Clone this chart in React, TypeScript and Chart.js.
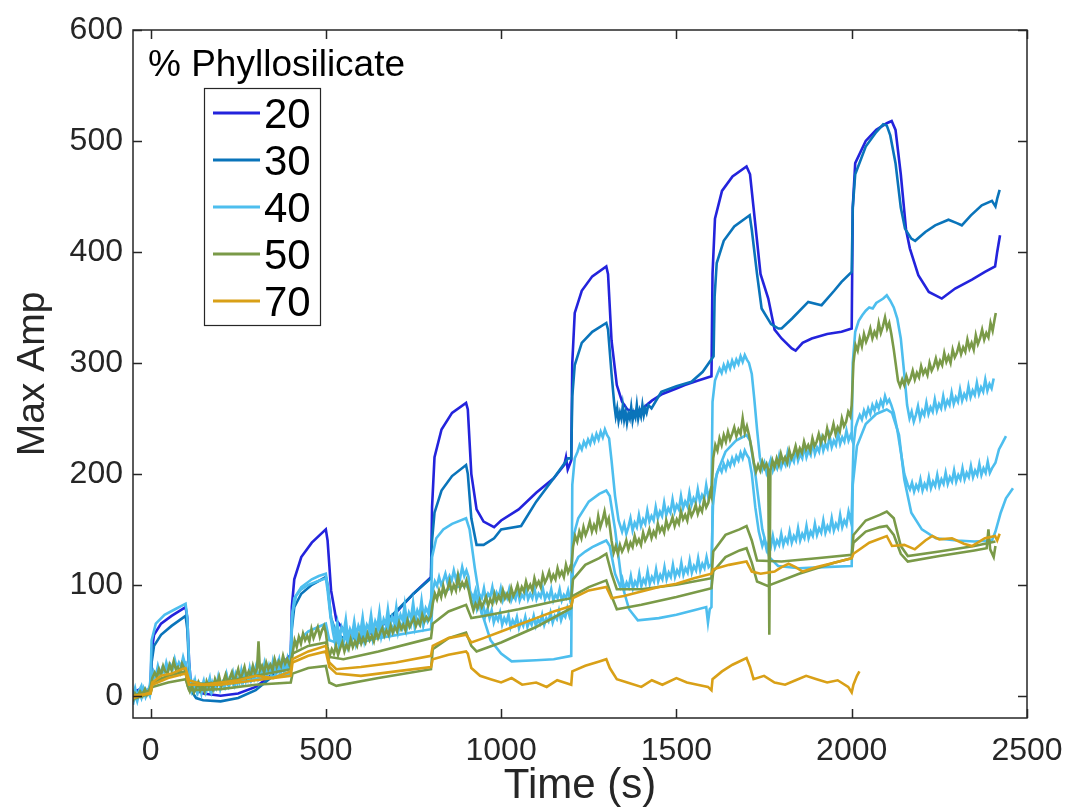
import React, { useEffect, useRef } from 'react';
import { Chart, registerables } from 'chart.js';
Chart.register(...registerables);

type P = [number, number];

const xTicks = [0, 500, 1000, 1500, 2000, 2500];
const yTicks = [0, 100, 200, 300, 400, 500, 600];
const xTitle = 'Time (s)';
const yTitle = 'Max Amp';
const legendTitle = '% Phyllosilicate';
const legendLabels = ['20', '30', '40', '50', '70'];

const C20 = '#2323DC';
const C30 = '#0A74BA';
const C40 = '#4DBEEE';
const C50 = '#7A9A48';
const C70 = '#D9A017';

const line20: P[] = [[-50,3],[-30,6],[-10,4],[0,8],[3,40],[10,55],[30,65],[60,72],[100,80],[105,70],[110,30],[115,12],[130,5],[150,2],[200,0],[250,2],[300,8],[350,20],[400,37],[403,80],[410,105],[430,125],[460,138],[500,150],[505,140],[515,95],[530,68],[550,60],[580,55],[600,52],[650,60],[700,75],[750,92],[800,107],[803,170],[810,215],[830,240],[860,255],[900,264],[905,258],[915,200],[930,168],[950,157],[980,152],[1000,158],[1050,168],[1100,183],[1150,196],[1180,208],[1185,215],[1190,204],[1200,212],[1203,300],[1210,345],[1230,365],[1260,378],[1300,387],[1305,380],[1315,320],[1330,280],[1345,265],[1360,258],[1381,256],[1400,258],[1430,266],[1460,272],[1500,277],[1524,280],[1560,284],[1600,288],[1603,380],[1610,430],[1630,455],[1660,468],[1700,477],[1710,470],[1720,440],[1740,380],[1762,358],[1780,330],[1800,322],[1829,313],[1840,311],[1860,318],[1886,322],[1930,326],[1971,328],[2000,331],[2003,440],[2010,480],[2040,500],[2070,510],[2100,516],[2114,518],[2125,510],[2140,470],[2155,420],[2166,403],[2190,379],[2220,364],[2257,358],[2295,367],[2343,375],[2380,382],[2409,387],[2415,400],[2423,415]];

const line30: P[] = [[-50,2],[-30,5],[-10,3],[0,6],[3,30],[10,45],[30,55],[60,63],[100,72],[105,60],[110,25],[115,5],[130,-2],[150,-4],[200,-5],[250,-2],[300,5],[350,18],[400,33],[403,60],[410,80],[430,92],[460,100],[500,107],[505,100],[515,70],[530,56],[550,52],[580,52],[600,53],[650,61],[700,76],[750,92],[800,106],[803,140],[810,165],[830,185],[860,198],[900,208],[905,200],[915,160],[930,136],[950,136],[980,142],[1000,150],[1057,153],[1100,175],[1150,196],[1191,214],[1200,214],[1203,270],[1210,298],[1230,318],[1260,328],[1300,336],[1305,330],[1315,290],[1323,262],[1327,252],[1331,259],[1335,248],[1339,255],[1343,250],[1347,261],[1351,249],[1355,256],[1359,246],[1363,254],[1367,250],[1371,260],[1375,248],[1379,255],[1383,251],[1387,262],[1391,250],[1395,257],[1399,252],[1403,262],[1407,253],[1411,259],[1415,255],[1420,262],[1429,259],[1457,274],[1500,279],[1543,283],[1575,292],[1606,306],[1609,360],[1615,390],[1635,410],[1665,423],[1709,433],[1715,420],[1730,380],[1743,349],[1770,335],[1791,331],[1800,331],[1830,340],[1876,355],[1914,352],[1950,365],[1971,373],[2000,382],[2003,440],[2010,470],[2040,495],[2070,508],[2090,515],[2100,514],[2110,505],[2125,480],[2140,440],[2152,421],[2170,412],[2181,410],[2210,418],[2238,424],[2276,429],[2300,426],[2314,424],[2340,433],[2371,442],[2400,446],[2410,441],[2415,448],[2422,456]];

const lb1: P[] = [[-50,0],[-44,7],[-38,-2],[-32,5],[-26,9],[-20,1],[-14,6],[-8,3],[-2,10],[0,15],[3,50],[15,65],[40,73],[70,78],[100,83],[105,70],[110,30],[115,12],[121,6],[127,14],[133,4],[139,10],[145,2],[151,12],[157,5],[163,9],[169,16],[175,4],[181,11],[187,7],[193,17],[199,6],[205,12],[211,8],[217,19],[223,9],[229,14],[235,21],[241,10],[247,16],[253,12],[259,23],[265,13],[271,18],[277,14],[283,25],[289,15],[295,20],[301,27],[307,16],[313,22],[319,18],[325,29],[331,19],[337,24],[343,20],[349,31],[355,21],[361,26],[367,33],[373,22],[379,28],[385,24],[391,34],[397,27],[400,30],[403,70],[410,88],[430,98],[460,105],[480,108],[500,110],[505,100],[515,70],[527,56],[533,66],[539,51],[545,62],[551,57],[557,69],[563,52],[569,60],[575,55],[581,67],[587,54],[593,63],[599,58],[605,71],[611,56],[617,64],[623,60],[629,73],[635,58],[641,67],[647,62],[653,76],[659,60],[665,69],[671,64],[677,78],[683,63],[689,71],[695,66],[701,80],[707,65],[713,73],[719,68],[725,82],[731,67],[737,75],[743,70],[749,84],[755,69],[761,77],[767,72],[773,86],[779,71],[785,79],[791,75],[797,83],[800,78],[803,125],[815,142],[835,150],[860,155],[900,160],[910,150],[925,115],[945,75],[970,50],[1000,38],[1030,31],[1100,32],[1150,33],[1200,36],[1203,190],[1210,214],[1218,220],[1224,226],[1230,222],[1236,229],[1242,225],[1248,231],[1254,227],[1260,234],[1266,229],[1272,236],[1278,231],[1284,238],[1290,233],[1296,240],[1302,235],[1308,232],[1315,212],[1325,180],[1335,158],[1345,148],[1351,155],[1357,146],[1363,152],[1369,160],[1375,149],[1381,156],[1387,152],[1393,163],[1399,153],[1405,159],[1411,155],[1417,167],[1423,157],[1429,162],[1435,158],[1441,170],[1447,160],[1453,166],[1459,162],[1465,174],[1471,163],[1477,169],[1483,165],[1489,177],[1495,166],[1501,172],[1507,168],[1513,180],[1519,169],[1525,175],[1531,171],[1537,183],[1543,172],[1549,178],[1555,174],[1561,186],[1567,175],[1573,181],[1579,177],[1585,190],[1591,179],[1597,185],[1600,183],[1603,265],[1610,284],[1617,290],[1623,295],[1629,291],[1635,298],[1641,293],[1647,300],[1653,295],[1659,302],[1665,297],[1671,303],[1677,299],[1683,306],[1689,301],[1695,307],[1701,303],[1707,300],[1715,290],[1722,268],[1730,240],[1738,215],[1745,204],[1751,210],[1757,201],[1763,207],[1769,213],[1775,203],[1781,209],[1787,205],[1793,216],[1799,206],[1805,212],[1811,208],[1817,219],[1823,209],[1829,215],[1835,211],[1841,222],[1847,212],[1853,218],[1859,214],[1865,225],[1871,215],[1877,221],[1883,217],[1889,228],[1895,218],[1901,224],[1907,220],[1913,231],[1919,221],[1925,227],[1931,223],[1937,234],[1943,224],[1949,230],[1955,226],[1961,237],[1967,227],[1973,233],[1979,229],[1985,239],[1991,230],[1997,235],[2000,232],[2003,300],[2010,328],[2020,338],[2030,343],[2040,347],[2050,350],[2060,349],[2070,354],[2080,356],[2090,358],[2100,361],[2110,356],[2120,350],[2130,340],[2140,322],[2150,290],[2158,262],[2165,250],[2171,256],[2177,247],[2183,253],[2189,261],[2195,250],[2201,257],[2207,253],[2213,264],[2219,254],[2225,260],[2231,256],[2237,267],[2243,257],[2249,263],[2255,259],[2261,270],[2267,260],[2273,266],[2279,262],[2285,273],[2291,263],[2297,269],[2303,265],[2309,276],[2315,266],[2321,272],[2327,268],[2333,279],[2339,269],[2345,275],[2351,271],[2357,282],[2363,272],[2369,278],[2375,274],[2381,285],[2387,275],[2393,281],[2399,277],[2405,286]];

const lb2: P[] = [[-50,-8],[-44,1],[-38,-5],[-32,3],[-26,-2],[-20,6],[-14,-1],[-8,4],[-2,0],[3,12],[9,22],[15,18],[21,27],[27,20],[33,25],[39,21],[45,30],[51,23],[57,28],[63,24],[69,33],[75,25],[81,30],[87,26],[93,35],[99,28],[104,22],[110,10],[116,4],[122,12],[128,6],[134,2],[140,9],[146,5],[152,13],[158,3],[164,8],[170,4],[176,12],[182,6],[188,10],[194,15],[200,7],[206,12],[212,8],[218,17],[224,9],[230,14],[236,10],[242,19],[248,11],[254,16],[260,12],[266,21],[272,13],[278,18],[284,14],[290,23],[296,15],[302,20],[308,16],[314,25],[320,17],[326,22],[332,18],[338,27],[344,19],[350,24],[356,20],[362,29],[368,21],[374,26],[380,22],[386,30],[392,24],[398,27],[405,75],[415,90],[430,96],[450,100],[475,103],[500,106],[505,95],[513,72],[520,58],[526,48],[532,56],[538,44],[544,52],[550,47],[556,59],[562,45],[568,53],[574,49],[580,61],[586,47],[592,55],[598,51],[604,63],[610,49],[616,57],[622,53],[628,65],[634,51],[640,59],[646,55],[652,67],[658,53],[664,61],[670,57],[676,69],[682,55],[688,63],[694,59],[700,71],[706,57],[712,65],[718,61],[724,73],[730,59],[736,67],[742,63],[748,75],[754,61],[760,69],[766,65],[772,77],[778,63],[784,71],[790,67],[796,74],[800,70],[805,95],[811,103],[817,99],[823,107],[829,100],[835,104],[841,110],[847,102],[853,108],[859,104],[865,113],[871,105],[877,110],[883,106],[889,116],[895,108],[901,113],[907,107],[913,90],[919,82],[925,88],[931,78],[937,84],[943,76],[949,82],[955,72],[961,78],[967,70],[973,77],[979,66],[985,72],[991,68],[997,75],[1003,64],[1009,70],[1015,66],[1021,73],[1027,62],[1033,68],[1039,64],[1045,71],[1051,61],[1057,67],[1063,63],[1069,71],[1075,62],[1081,68],[1087,64],[1093,72],[1099,63],[1105,69],[1111,65],[1117,73],[1123,64],[1129,70],[1135,67],[1141,75],[1147,66],[1153,72],[1159,69],[1165,77],[1171,68],[1177,74],[1183,71],[1189,79],[1195,72],[1200,78],[1205,115],[1220,125],[1240,130],[1260,134],[1280,137],[1300,140],[1310,135],[1325,110],[1340,98],[1346,105],[1352,96],[1358,102],[1364,98],[1370,108],[1376,97],[1382,103],[1388,99],[1394,110],[1400,99],[1406,105],[1412,101],[1418,112],[1424,101],[1430,107],[1436,103],[1442,114],[1448,103],[1454,109],[1460,105],[1466,116],[1472,105],[1478,111],[1484,107],[1490,118],[1496,107],[1502,113],[1508,109],[1514,120],[1520,109],[1526,115],[1532,111],[1538,122],[1544,111],[1550,117],[1556,113],[1562,124],[1568,113],[1574,119],[1580,115],[1586,125],[1592,116],[1600,119],[1605,180],[1611,195],[1617,201],[1623,206],[1629,202],[1635,209],[1641,204],[1647,211],[1653,207],[1659,214],[1665,209],[1671,216],[1677,212],[1683,219],[1689,214],[1695,221],[1701,217],[1707,214],[1715,200],[1725,170],[1735,148],[1745,135],[1751,141],[1757,132],[1763,138],[1769,134],[1775,144],[1781,134],[1787,140],[1793,136],[1799,146],[1805,136],[1811,142],[1817,138],[1823,148],[1829,138],[1835,144],[1841,140],[1847,151],[1853,140],[1859,146],[1865,142],[1871,153],[1877,142],[1883,148],[1889,144],[1895,155],[1901,145],[1907,151],[1913,147],[1919,158],[1925,147],[1931,153],[1937,149],[1943,160],[1949,149],[1955,155],[1961,151],[1967,163],[1973,152],[1979,158],[1985,154],[1991,166],[1997,158],[2000,165],[2005,225],[2011,242],[2017,248],[2023,253],[2029,249],[2035,257],[2041,252],[2047,259],[2053,254],[2059,262],[2065,257],[2071,264],[2077,259],[2083,266],[2089,261],[2095,270],[2101,264],[2107,267],[2113,262],[2120,255],[2130,240],[2140,220],[2150,200],[2160,190],[2166,186],[2172,192],[2178,184],[2184,190],[2190,186],[2196,195],[2202,185],[2208,191],[2214,187],[2220,197],[2226,187],[2232,193],[2238,189],[2244,199],[2250,189],[2256,195],[2262,191],[2268,201],[2274,191],[2280,197],[2286,193],[2292,203],[2298,193],[2304,199],[2310,195],[2316,205],[2322,195],[2328,201],[2334,197],[2340,207],[2346,197],[2352,203],[2358,199],[2364,209],[2370,199],[2376,205],[2382,201],[2388,211],[2394,201],[2400,205],[2410,210],[2420,222],[2430,228],[2440,234]];

const lb3: P[] = [[-50,2],[0,4],[5,15],[50,25],[100,30],[110,12],[200,10],[300,15],[400,20],[405,45],[450,58],[500,65],[510,50],[560,45],[650,52],[800,60],[805,88],[850,96],[900,100],[915,92],[921,88],[927,95],[933,86],[939,91],[945,88],[951,97],[957,86],[963,92],[969,89],[975,98],[981,87],[987,93],[993,89],[999,97],[1005,86],[1011,92],[1017,88],[1023,96],[1029,86],[1035,91],[1041,87],[1047,96],[1053,86],[1059,91],[1065,88],[1071,97],[1077,87],[1083,92],[1089,88],[1095,97],[1101,87],[1107,92],[1113,89],[1119,97],[1125,87],[1131,92],[1137,88],[1143,96],[1149,86],[1155,91],[1161,88],[1167,96],[1173,86],[1179,91],[1185,88],[1191,95],[1197,86],[1200,88],[1203,140],[1220,160],[1250,175],[1280,182],[1300,185],[1310,180],[1325,150],[1345,100],[1365,78],[1390,68],[1450,70],[1500,73],[1550,77],[1585,80],[1590,66],[1595,78],[1600,80],[1603,170],[1615,200],[1640,220],[1670,230],[1700,235],[1710,230],[1725,200],[1745,150],[1765,125],[1790,117],[1850,115],[1920,116],[2000,117],[2003,190],[2015,225],[2040,245],[2070,254],[2100,258],[2115,255],[2135,235],[2150,195],[2170,165],[2200,150],[2240,142],[2300,140],[2350,139],[2400,140],[2410,148],[2425,165],[2440,178],[2460,187]];

const g1: P[] = [[-50,-5],[-44,2],[-38,-1],[-30,4],[-24,0],[-16,6],[-10,1],[-4,5],[0,8],[5,16],[12,21],[18,17],[24,24],[30,19],[36,27],[42,22],[48,20],[54,28],[60,23],[66,31],[72,24],[78,26],[84,21],[90,29],[96,25],[100,22],[105,10],[112,4],[118,9],[124,3],[130,7],[136,12],[142,5],[148,9],[154,4],[160,13],[166,8],[172,11],[178,6],[184,15],[190,10],[196,17],[202,9],[208,13],[214,19],[220,12],[226,16],[232,21],[238,13],[244,18],[250,24],[256,15],[262,20],[268,26],[274,17],[280,22],[286,18],[292,27],[298,20],[304,25],[308,49],[312,23],[318,27],[324,21],[330,30],[336,24],[342,28],[348,23],[354,33],[360,26],[366,31],[372,27],[378,36],[384,29],[390,33],[396,28],[400,31],[405,38],[411,50],[417,44],[423,53],[429,47],[435,56],[441,50],[447,54],[453,49],[459,60],[465,52],[471,57],[477,62],[483,53],[489,59],[495,63],[500,57],[505,44],[511,36],[517,42],[523,38],[529,45],[535,37],[541,43],[547,48],[553,40],[559,46],[565,42],[571,51],[577,44],[583,49],[589,45],[595,54],[601,47],[607,52],[613,48],[619,56],[625,50],[631,54],[637,49],[643,58],[649,52],[655,57],[661,61],[667,54],[673,59],[679,55],[685,63],[691,57],[697,62],[703,58],[709,66],[715,60],[721,64],[727,59],[733,68],[739,62],[745,66],[751,70],[757,63],[763,68],[769,64],[775,73],[781,67],[787,71],[793,68],[800,72],[805,83],[811,92],[817,87],[823,95],[829,89],[835,99],[841,91],[847,96],[853,103],[859,94],[865,100],[871,95],[877,108],[883,97],[889,102],[895,98],[901,104],[907,96],[915,84],[921,77],[927,83],[933,79],[939,86],[945,80],[951,84],[957,89],[963,81],[969,87],[975,83],[981,92],[987,85],[993,90],[999,86],[1005,95],[1011,88],[1017,92],[1023,87],[1029,97],[1035,90],[1041,94],[1047,100],[1053,92],[1059,98],[1065,94],[1071,103],[1077,96],[1083,100],[1089,95],[1095,106],[1101,99],[1107,103],[1113,98],[1119,109],[1125,102],[1131,106],[1137,112],[1143,104],[1149,109],[1155,105],[1161,115],[1167,108],[1173,112],[1179,107],[1185,118],[1191,111],[1197,116],[1200,114],[1205,134],[1211,144],[1217,139],[1223,148],[1229,142],[1235,152],[1241,145],[1247,150],[1253,157],[1259,148],[1265,154],[1271,149],[1277,162],[1283,152],[1289,158],[1295,166],[1301,155],[1307,160],[1315,140],[1321,129],[1327,135],[1333,128],[1339,136],[1345,130],[1351,134],[1357,140],[1363,132],[1369,138],[1375,134],[1381,144],[1387,137],[1393,141],[1399,136],[1405,147],[1411,140],[1417,144],[1423,150],[1429,142],[1435,148],[1441,144],[1447,155],[1453,148],[1459,152],[1465,147],[1471,158],[1477,151],[1483,155],[1489,161],[1495,153],[1501,159],[1507,155],[1513,166],[1519,159],[1525,163],[1531,158],[1537,169],[1543,162],[1549,166],[1555,172],[1561,164],[1567,170],[1573,166],[1579,177],[1585,170],[1591,174],[1597,184],[1600,180],[1605,214],[1611,226],[1617,221],[1623,232],[1629,226],[1635,235],[1641,229],[1647,238],[1653,231],[1659,236],[1665,242],[1671,234],[1677,240],[1683,236],[1689,250],[1695,237],[1701,243],[1707,235],[1715,222],[1721,210],[1727,202],[1733,208],[1739,203],[1745,211],[1751,205],[1757,209],[1762,204],[1765,55],[1768,203],[1774,212],[1780,206],[1786,214],[1792,208],[1798,218],[1804,211],[1810,215],[1816,210],[1822,221],[1828,214],[1834,218],[1840,225],[1846,217],[1852,223],[1858,219],[1864,229],[1870,222],[1876,226],[1882,221],[1888,232],[1894,225],[1900,229],[1906,236],[1912,228],[1918,234],[1924,230],[1930,241],[1936,233],[1942,237],[1948,245],[1954,236],[1960,242],[1966,238],[1972,250],[1978,243],[1984,247],[1990,256],[1996,252],[2000,262],[2005,300],[2011,316],[2017,311],[2023,322],[2029,315],[2035,326],[2041,319],[2047,324],[2053,331],[2059,322],[2065,328],[2071,324],[2077,336],[2083,327],[2089,333],[2095,341],[2101,331],[2107,336],[2113,326],[2120,312],[2126,298],[2132,284],[2138,279],[2144,285],[2150,280],[2156,288],[2162,282],[2168,286],[2174,293],[2180,285],[2186,291],[2192,287],[2198,297],[2204,290],[2210,294],[2216,289],[2222,300],[2228,293],[2234,297],[2240,304],[2246,296],[2252,302],[2258,298],[2264,309],[2270,301],[2276,306],[2282,300],[2288,312],[2294,305],[2300,309],[2306,316],[2312,308],[2318,314],[2324,310],[2330,321],[2336,313],[2342,318],[2348,312],[2354,325],[2360,317],[2366,322],[2372,330],[2378,321],[2384,327],[2390,323],[2396,336],[2402,329],[2408,340],[2411,345]];

const g2: P[] = [[-50,0],[0,5],[5,12],[50,18],[100,22],[110,10],[200,12],[300,18],[400,24],[405,38],[450,45],[500,48],[510,35],[550,33],[650,40],[800,52],[805,65],[850,76],[900,82],[915,70],[950,72],[1050,78],[1150,85],[1200,88],[1205,105],[1240,118],[1280,124],[1300,128],[1315,110],[1330,96],[1400,96],[1500,100],[1600,106],[1605,130],[1640,145],[1680,150],[1700,153],[1715,140],[1730,122],[1800,121],[1900,124],[2000,127],[2005,145],[2040,158],[2080,163],[2100,166],[2120,160],[2140,135],[2160,126],[2250,130],[2350,135],[2410,139]];

const g3: P[] = [[-50,-3],[0,2],[5,8],[50,12],[100,15],[110,5],[200,6],[300,10],[400,12],[405,20],[450,25],[500,27],[510,12],[530,9],[650,16],[800,24],[805,42],[850,52],[900,57],[915,45],[930,40],[1000,48],[1100,62],[1200,79],[1205,90],[1250,98],[1300,104],[1315,90],[1330,78],[1400,82],[1500,89],[1600,97],[1605,112],[1640,125],[1680,131],[1700,133],[1715,120],[1730,103],[1760,99],[1850,110],[1950,120],[2000,124],[2005,138],[2040,148],[2080,152],[2100,153],[2120,145],[2140,128],[2160,121],[2250,126],[2350,131],[2385,133],[2390,150],[2395,132],[2405,125],[2410,135]];

const o1: P[] = [[-50,-2],[0,3],[5,12],[30,18],[60,20],[90,24],[100,25],[110,14],[150,10],[200,12],[250,14],[300,18],[350,16],[400,22],[405,33],[450,40],[500,45],[510,30],[530,24],[600,26],[700,30],[800,36],[805,45],[850,52],[900,55],[915,48],[950,52],[1000,58],[1050,64],[1100,70],[1150,76],[1200,81],[1205,88],[1250,95],[1300,98],[1315,88],[1350,90],[1400,94],[1450,98],[1500,101],[1550,106],[1600,110],[1605,114],[1650,118],[1700,121],[1715,112],[1740,110],[1780,112],[1800,116],[1820,119],[1840,116],[1860,112],[1900,116],[1950,120],[2000,124],[2005,128],[2050,138],[2100,144],[2115,135],[2150,136],[2180,132],[2210,140],[2230,144],[2250,141],[2286,142],[2320,137],[2343,135],[2380,142],[2409,144],[2415,140],[2422,146]];

const o2: P[] = [[-50,0],[0,2],[5,10],[50,16],[100,20],[110,10],[200,10],[300,14],[400,18],[405,30],[450,36],[500,40],[510,26],[530,20],[600,18],[700,22],[800,26],[805,33],[850,37],[900,40],[905,38],[915,25],[940,18],[970,15],[1000,12],[1030,16],[1060,10],[1100,12],[1130,8],[1160,14],[1200,10],[1203,22],[1240,27],[1280,31],[1300,33],[1310,25],[1330,15],[1360,12],[1400,8],[1430,14],[1460,10],[1500,16],[1530,12],[1560,10],[1590,8],[1600,5],[1603,15],[1630,22],[1660,28],[1700,34],[1710,26],[1720,15],[1750,18],[1780,12],[1810,10],[1840,14],[1870,18],[1900,15],[1930,12],[1960,14],[1990,8],[2000,3],[2005,10],[2015,18],[2022,22]];

const series: { color: string; pts: P[] }[] = [
  { color: C20, pts: line20 },
  { color: C30, pts: line30 },
  { color: C40, pts: lb3 },
  { color: C40, pts: lb2 },
  { color: C40, pts: lb1 },
  { color: C50, pts: g3 },
  { color: C50, pts: g2 },
  { color: C50, pts: g1 },
  { color: C70, pts: o2 },
  { color: C70, pts: o1 },
];
const legendColors = [C20, C30, C40, C50, C70];

const FONT = "'Liberation Sans', Arial, Helvetica, sans-serif";
const AXIS = '#262626';

const framePlugin = {
  id: 'frame',
  afterDraw(chart: any) {
    const { ctx, chartArea: a, scales } = chart;
    ctx.save();
    ctx.strokeStyle = AXIS;
    ctx.lineWidth = 1.5;
    ctx.strokeRect(a.left, a.top, a.right - a.left, a.bottom - a.top);
    const L = 9;
    ctx.beginPath();
    xTicks.forEach((v) => {
      const px = Math.round(scales.x.getPixelForValue(v)) + 0.5;
      ctx.moveTo(px, a.bottom); ctx.lineTo(px, a.bottom - L);
      ctx.moveTo(px, a.top); ctx.lineTo(px, a.top + L);
    });
    yTicks.forEach((v) => {
      const py = Math.round(scales.y.getPixelForValue(v)) + 0.5;
      ctx.moveTo(a.left, py); ctx.lineTo(a.left + L, py);
      ctx.moveTo(a.right, py); ctx.lineTo(a.right - L, py);
    });
    ctx.stroke();

    ctx.fillStyle = '#000';
    ctx.font = `37px ${FONT}`;
    ctx.textBaseline = 'alphabetic';
    ctx.textAlign = 'left';
    ctx.fillText(legendTitle, 148, 76);

    const bx = 204.5, by = 88.5, bw = 116, bh = 237;
    ctx.fillStyle = '#fff';
    ctx.fillRect(bx, by, bw, bh);
    ctx.strokeStyle = AXIS;
    ctx.lineWidth = 1.2;
    ctx.strokeRect(bx, by, bw, bh);
    ctx.font = `42px ${FONT}`;
    legendLabels.forEach((lab, i) => {
      const y = 113 + i * 47;
      ctx.strokeStyle = legendColors[i];
      ctx.lineWidth = 3;
      ctx.beginPath();
      ctx.moveTo(213, y); ctx.lineTo(260, y);
      ctx.stroke();
      ctx.fillStyle = '#000';
      ctx.fillText(lab, 264, y + 15);
    });
    ctx.restore();
  },
};

export default function App() {
  const ref = useRef<HTMLCanvasElement>(null);
  useEffect(() => {
    document.body.style.margin = '0';
    const canvas = ref.current;
    if (!canvas) return;
    const chart = new Chart(canvas, {
      type: 'line',
      data: {
        datasets: series.map((s, i) => ({
          data: s.pts.map(([x, y]) => ({ x, y })),
          borderColor: s.color,
          backgroundColor: s.color,
          borderWidth: 2.6,
          pointRadius: 0,
          tension: 0,
          fill: false,
          order: series.length - i,
        })),
      },
      options: {
        responsive: false,
        animation: false,
        devicePixelRatio: 1,
        layout: { padding: { left: 0, right: 46, top: 30, bottom: 0 } },
        plugins: { legend: { display: false }, tooltip: { enabled: false } },
        scales: {
          x: {
            type: 'linear',
            min: -50,
            max: 2500,
            afterBuildTicks: (s: any) => { s.ticks = xTicks.map((v) => ({ value: v })); },
            afterFit: (s: any) => { s.height = 94; s.paddingLeft = 0; s.paddingRight = 0; },
            grid: { display: false, drawTicks: false },
            border: { display: false },
            ticks: { color: AXIS, font: { family: FONT, size: 32 }, padding: 14, maxRotation: 0, autoSkip: false, callback: (v: any) => String(v) },
            title: { display: true, text: xTitle, color: AXIS, font: { family: FONT, size: 42 }, padding: { top: 0, bottom: 0 } },
          },
          y: {
            type: 'linear',
            min: -20,
            max: 600,
            afterBuildTicks: (s: any) => { s.ticks = yTicks.map((v) => ({ value: v })); },
            afterFit: (s: any) => { s.width = 133; s.paddingTop = 0; s.paddingBottom = 0; },
            grid: { display: false, drawTicks: false },
            border: { display: false },
            ticks: { color: AXIS, font: { family: FONT, size: 32 }, padding: 10, autoSkip: false, callback: (v: any) => String(v) },
            title: { display: true, text: yTitle, color: AXIS, font: { family: FONT, size: 39 }, padding: { top: 10, bottom: 0 } },
          },
        },
      },
      plugins: [framePlugin],
    });
    return () => chart.destroy();
  }, []);
  return (
    <div style={{ width: 1073, height: 812 }}>
      <canvas ref={ref} width={1073} height={812} style={{ display: 'block' }} />
    </div>
  );
}
